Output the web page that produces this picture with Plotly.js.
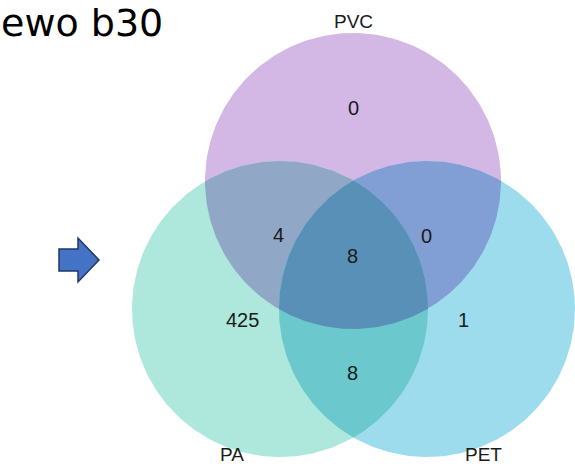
<!DOCTYPE html>
<html>
<head>
<meta charset="utf-8">
<script src="https://cdn.plot.ly/plotly-3.0.1.min.js"></script>
<style>
html,body{margin:0;padding:0;background:#fff;}
#chart{width:575px;height:466px;}
</style>
</head>
<body>
<div id="chart"></div>
<script>
// ---- data ----
const setNames = ['PVC', 'PA', 'PET'];
const setColors = ['#D3B8E6', '#AEE8DC', '#9DDCEC'];
const regionNames = ['PVC only', 'PA only', 'PET only', 'PA∩PVC', 'PVC∩PET', 'PA∩PVC∩PET', 'PA∩PET'];
const regionCounts = [0, 425, 1, 4, 0, 8, 8];
const titleText = 'ewo b30';

// ---- geometry (pixel-like data coordinates) ----
const R = 148;
const centers = [[353, 181], [280, 309], [427, 309]];
const setLabelPos = [[353, 21], [232, 454], [483, 454]];
const regionPos = [[353, 108], [242, 320], [463, 320], [278, 235], [426, 236], [352, 256], [352, 373]];

function circlePoly(c) {
  const pts = [];
  for (let k = 0; k < 360; k++) {
    const a = k * Math.PI / 180;
    pts.push([c[0] + R * Math.cos(a), c[1] + R * Math.sin(a)]);
  }
  return pts;
}
// Sutherland-Hodgman clip of polygon by convex polygon
function clip(subject, clipper) {
  let out = subject;
  let area = 0;
  for (let i = 0; i < clipper.length; i++) {
    const p = clipper[i], q = clipper[(i + 1) % clipper.length];
    area += p[0] * q[1] - q[0] * p[1];
  }
  const sgn = area > 0 ? 1 : -1;
  for (let i = 0; i < clipper.length; i++) {
    const A = clipper[i], B = clipper[(i + 1) % clipper.length];
    const inside = p => sgn * ((B[0] - A[0]) * (p[1] - A[1]) - (B[1] - A[1]) * (p[0] - A[0])) >= 0;
    const inter = (p, q) => {
      const a1 = B[1] - A[1], b1 = A[0] - B[0], c1 = a1 * A[0] + b1 * A[1];
      const a2 = q[1] - p[1], b2 = p[0] - q[0], c2 = a2 * p[0] + b2 * p[1];
      const d = a1 * b2 - a2 * b1;
      return [(b2 * c1 - b1 * c2) / d, (a1 * c2 - a2 * c1) / d];
    };
    const inp = out; out = [];
    if (!inp.length) break;
    for (let j = 0; j < inp.length; j++) {
      const cur = inp[j], prev = inp[(j + inp.length - 1) % inp.length];
      if (inside(cur)) {
        if (!inside(prev)) out.push(inter(prev, cur));
        out.push(cur);
      } else if (inside(prev)) out.push(inter(prev, cur));
    }
  }
  return out;
}
function hex2rgb(h) { return [1, 3, 5].map(i => parseInt(h.substr(i, 2), 16)); }
function multiply(list) {
  let r = [255, 255, 255];
  list.forEach(h => { const c = hex2rgb(h); r = r.map((v, i) => v * c[i] / 255); });
  return 'rgb(' + r.map(Math.round).join(',') + ')';
}

const polys = centers.map(circlePoly);
const traces = [];
function addPoly(pts, color) {
  traces.push({
    x: pts.map(p => p[0]).concat([pts[0][0]]),
    y: pts.map(p => p[1]).concat([pts[0][1]]),
    mode: 'lines', fill: 'toself', fillcolor: color,
    line: {width: 0, color: color}, hoverinfo: 'skip', showlegend: false
  });
}
polys.forEach((p, i) => addPoly(p, setColors[i]));
[[0, 1], [0, 2], [1, 2]].forEach(([a, b]) => addPoly(clip(polys[a], polys[b]), multiply([setColors[a], setColors[b]])));
addPoly(clip(clip(polys[0], polys[1]), polys[2]), multiply(setColors));

const shapes = [{
  type: 'path', xref: 'x', yref: 'y', layer: 'above',
  path: 'M 59 249 L 78 249 L 78 238 L 99 260 L 78 282 L 78 271 L 59 271 Z',
  fillcolor: '#4472C4', line: {color: '#1F3864', width: 1.5}
}];

const txtFont = {family: 'Liberation Sans, Arial, sans-serif', size: 20, color: '#1a1a1a'};
const annotations = [];
setNames.forEach((n, i) => annotations.push({
  x: setLabelPos[i][0], y: setLabelPos[i][1], xref: 'x', yref: 'y', text: n,
  showarrow: false, font: Object.assign({}, txtFont, {size: 19})
}));
regionCounts.forEach((v, i) => annotations.push({
  x: regionPos[i][0], y: regionPos[i][1], xref: 'x', yref: 'y', text: String(v),
  showarrow: false, font: txtFont
}));
annotations.push({
  x: 0, y: 1, xref: 'paper', yref: 'paper', text: titleText,
  xanchor: 'left', yanchor: 'top', borderpad: 0,
  showarrow: false, font: {family: 'DejaVu Sans, sans-serif', size: 38, color: '#000'}
});

Plotly.newPlot('chart', traces, {
  width: 575, height: 466,
  margin: {l: 0, r: 0, t: 0, b: 0},
  paper_bgcolor: '#fff', plot_bgcolor: '#fff',
  xaxis: {range: [0, 575], visible: false, fixedrange: true},
  yaxis: {range: [466, 0], visible: false, fixedrange: true},
  shapes: shapes, annotations: annotations, showlegend: false
}, {displayModeBar: false, staticPlot: true});
</script>
</body>
</html>
